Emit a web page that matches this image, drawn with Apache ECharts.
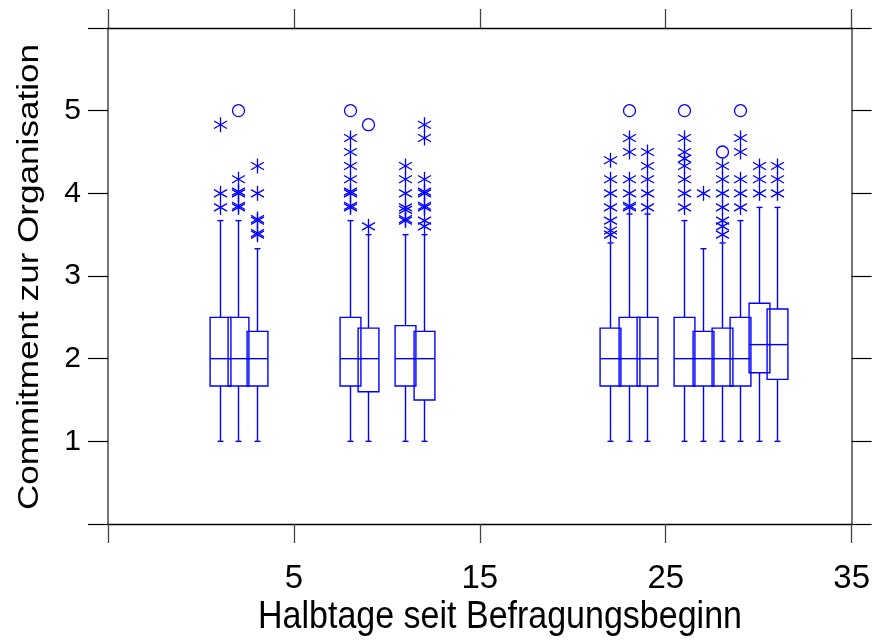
<!DOCTYPE html>
<html><head><meta charset="utf-8">
<script src="https://cdn.jsdelivr.net/npm/echarts@6/dist/echarts.min.js"></script>
<style>html,body{margin:0;padding:0;background:#fff}#c{width:873px;height:641px}</style>
</head><body><div id="c"></div>
<script>
// Half-days since survey start (box positions)
const halfDays      = [1, 2, 3, 8, 9, 11, 12, 22, 23, 24, 26, 27, 28, 29, 30, 31];
const lowerWhisker  = [1, 1, 1, 1, 1, 1, 1, 1, 1, 1, 1, 1, 1, 1, 1, 1];
const q1            = [1.67, 1.67, 1.67, 1.67, 1.6, 1.67, 1.5, 1.67, 1.67, 1.67, 1.67, 1.67, 1.67, 1.67, 1.83, 1.75];
const median        = [2, 2, 2, 2, 2, 2, 2, 2, 2, 2, 2, 2, 2, 2, 2.17, 2.17];
const q3            = [2.5, 2.5, 2.33, 2.5, 2.37, 2.4, 2.33, 2.37, 2.5, 2.5, 2.5, 2.33, 2.37, 2.5, 2.67, 2.6];
const upperWhisker  = [3.67, 3.67, 3.33, 3.67, 3.5, 3.5, 3.5, 3.4, 3.75, 3.75, 3.67, 3.33, 3.4, 3.67, 3.83, 3.83];

// Outliers (asterisks) as [halfDay, value]
const starOutliers = [
  [1,3.83],[1,4.0],[1,4.83],
  [2,3.83],[2,3.85],[2,4.0],[2,4.02],[2,4.17],
  [3,3.5],[3,3.52],[3,3.67],[3,3.69],[3,4.0],[3,4.33],
  [8,3.83],[8,3.85],[8,4.0],[8,4.02],[8,4.17],[8,4.33],[8,4.5],[8,4.67],
  [9,3.6],
  [11,3.67],[11,3.69],[11,3.8],[11,3.83],[11,4.0],[11,4.17],[11,4.33],
  [12,3.6],[12,3.67],[12,3.83],[12,3.85],[12,4.0],[12,4.02],[12,4.17],[12,4.67],[12,4.83],
  [22,3.5],[22,3.55],[22,3.67],[22,3.83],[22,4.0],[22,4.17],[22,4.4],
  [23,3.83],[23,3.85],[23,4.0],[23,4.17],[23,4.5],[23,4.67],
  [24,3.83],[24,4.0],[24,4.17],[24,4.33],[24,4.5],
  [26,3.83],[26,4.0],[26,4.17],[26,4.33],[26,4.42],[26,4.5],[26,4.67],
  [27,4.0],
  [28,3.5],[28,3.6],[28,3.67],[28,3.83],[28,4.0],[28,4.17],[28,4.33],
  [29,3.83],[29,4.0],[29,4.17],[29,4.5],[29,4.67],
  [30,4.0],[30,4.17],[30,4.33],
  [31,4.0],[31,4.17],[31,4.33]
];
// Extreme values (circles)
const circleOutliers = [[2,5],[8,5],[9,4.83],[23,5],[26,5],[28,4.5],[29,5]];

const xTicks = [-5, 5, 15, 25, 35];
const yTicks = [0, 1, 2, 3, 4, 5, 6];

const BLUE = '#0000ff';
const boxData = halfDays.map((d, i) => [d, lowerWhisker[i], q1[i], median[i], q3[i], upperWhisker[i]]);

function renderBox(params, api) {
  const x = api.value(0);
  const lo = api.coord([x, api.value(1)]);
  const b = api.coord([x, api.value(2)]);
  const m = api.coord([x, api.value(3)]);
  const t = api.coord([x, api.value(4)]);
  const hi = api.coord([x, api.value(5)]);
  const w = api.size([1, 0])[0] * 1.12;
  const cx = Math.round(lo[0]) + 0.5;
  const cap = 3;
  const st = { stroke: BLUE, lineWidth: 1.4, fill: null };
  return {
    type: 'group',
    children: [
      { type: 'rect', shape: { x: cx - w / 2, y: t[1], width: w, height: b[1] - t[1] }, style: { stroke: BLUE, lineWidth: 1.4, fill: null } },
      { type: 'line', shape: { x1: cx - w / 2, y1: m[1], x2: cx + w / 2, y2: m[1] }, style: st },
      { type: 'line', shape: { x1: cx, y1: t[1], x2: cx, y2: hi[1] }, style: st },
      { type: 'line', shape: { x1: cx, y1: b[1], x2: cx, y2: lo[1] }, style: st },
      { type: 'line', shape: { x1: cx - cap, y1: hi[1], x2: cx + cap, y2: hi[1] }, style: st },
      { type: 'line', shape: { x1: cx - cap, y1: lo[1], x2: cx + cap, y2: lo[1] }, style: st }
    ]
  };
}

function renderStar(params, api) {
  const p = api.coord([api.value(0), api.value(1)]);
  const cx = Math.round(p[0]) + 0.5, cy = p[1];
  const r = 7.5, dx = r * Math.cos(Math.PI / 6), dy = r * Math.sin(Math.PI / 6);
  const st = { stroke: BLUE, lineWidth: 1.3, fill: null };
  return {
    type: 'group',
    children: [
      { type: 'line', shape: { x1: cx, y1: cy - r, x2: cx, y2: cy + r }, style: st },
      { type: 'line', shape: { x1: cx - dx, y1: cy - dy, x2: cx + dx, y2: cy + dy }, style: st },
      { type: 'line', shape: { x1: cx - dx, y1: cy + dy, x2: cx + dx, y2: cy - dy }, style: st }
    ]
  };
}

function renderCircle(params, api) {
  const p = api.coord([api.value(0), api.value(1)]);
  return { type: 'circle', shape: { cx: Math.round(p[0]) + 0.5, cy: p[1], r: 6 }, style: { stroke: BLUE, lineWidth: 1.3, fill: null } };
}

const xAxisBase = {
  type: 'value', min: xTicks[0], max: xTicks[xTicks.length - 1], interval: 10,
  splitLine: { show: false },
  axisLine: { show: true, onZero: false, lineStyle: { color: '#000', width: 1.3 } },
  axisTick: { show: true, length: 19, lineStyle: { color: '#444', width: 1.3 } }
};
const yAxisBase = {
  type: 'value', min: yTicks[0], max: yTicks[yTicks.length - 1], interval: 1,
  splitLine: { show: false },
  axisLine: { show: true, onZero: false, lineStyle: { color: '#555', width: 1.6 } },
  axisTick: { show: true, length: 20, lineStyle: { color: '#000', width: 1.2 } }
};

const chart = echarts.init(document.getElementById('c'), null, { renderer: 'canvas' });
chart.setOption({
  animation: false,
  backgroundColor: '#fff',
  grid: { left: 108, right: 21, top: 28, bottom: 117, containLabel: false },
  xAxis: [
    Object.assign({}, xAxisBase, {
      position: 'bottom',
      axisLabel: {
        show: true, margin: 38, color: '#000', fontSize: 33, fontFamily: 'Liberation Sans',
        formatter: v => (v === xTicks[0] ? '' : String(v))
      }
    }),
    Object.assign({}, xAxisBase, { position: 'top', axisLabel: { show: false } })
  ],
  yAxis: [
    Object.assign({}, yAxisBase, {
      position: 'left',
      axisLabel: {
        show: true, margin: 27, color: '#000', fontSize: 30, fontFamily: 'Liberation Sans',
        formatter: v => (v === yTicks[0] || v === yTicks[yTicks.length - 1] ? '' : String(v))
      }
    }),
    Object.assign({}, yAxisBase, { position: 'right', axisLabel: { show: false } })
  ],
  graphic: [
    { type: 'text', x: 500, y: 617, scaleY: 1.15,
      style: { text: 'Halbtage seit Befragungsbeginn', fontSize: 34, fontFamily: 'Liberation Sans', fill: '#000', align: 'center', verticalAlign: 'middle' } },
    { type: 'text', x: 30, y: 277, rotation: Math.PI / 2, scaleX: 1.21,
      style: { text: 'Commitment zur Organisation', fontSize: 29, fontFamily: 'Liberation Sans', fill: '#000', align: 'center', verticalAlign: 'middle' } }
  ],
  series: [
    { type: 'custom', name: 'Box', data: boxData, renderItem: renderBox, encode: { x: 0, y: [1, 2, 3, 4, 5] }, clip: false },
    { type: 'custom', name: 'Ausreißer', data: starOutliers, renderItem: renderStar, encode: { x: 0, y: 1 } },
    { type: 'custom', name: 'Extremwerte', data: circleOutliers, renderItem: renderCircle, encode: { x: 0, y: 1 } }
  ]
});
</script>
</body></html>
